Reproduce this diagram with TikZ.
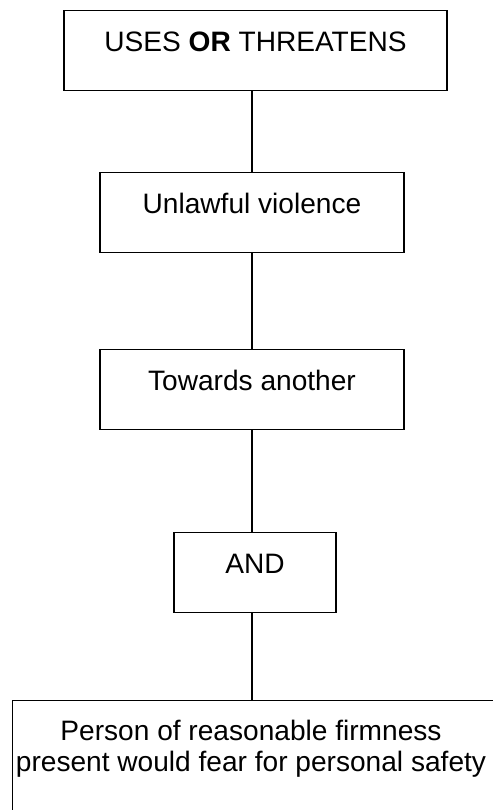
\documentclass[tikz,border=0pt]{standalone}
\usepackage{fontspec}
\setmainfont{Liberation Sans}
\begin{document}
\begin{tikzpicture}[x=0.5pt,y=-0.5pt,
  stepbox/.style={draw=black, line width=0.6pt, rectangle, inner xsep=0pt, inner ysep=0pt,
    minimum height=40pt, text height=20.5pt, text depth=19.5pt,
    font=\fontsize{14.05}{15.5}\selectfont},
  link/.style={draw=black, line width=0.6pt},
  every node/.append style={anchor=north}]
\useasboundingbox (0,0) rectangle (493,810);
\clip (0,0) rectangle (493,810);
\coordinate (spine) at (252,0);
\node[stepbox, minimum width=191.5pt] (a) at (255.5,10) {USES \textbf{OR} THREATENS};
\node[stepbox, minimum width=152pt] (b) at (252,172) {Unlawful violence};
\node[stepbox, minimum width=152pt] (c) at (252,349) {Towards another};
\node[stepbox, minimum width=81pt] (d) at (255,532) {AND};
\node[draw=black, line width=0.6pt, rectangle, inner sep=0pt, minimum width=242pt, minimum height=65pt, anchor=north west] (e) at (12,700) {};
\node[inner sep=0pt, align=center, font=\fontsize{14.05}{15.5}\selectfont] (et) at (251,719.5) {Person of reasonable firmness\\present would fear for personal safety};
\draw[link] (a.south -| spine) -- (b.north -| spine);
\draw[link] (b.south -| spine) -- (c.north -| spine);
\draw[link] (c.south -| spine) -- (d.north -| spine);
\draw[link] (d.south -| spine) -- (e.north -| spine);
\end{tikzpicture}
\end{document}
